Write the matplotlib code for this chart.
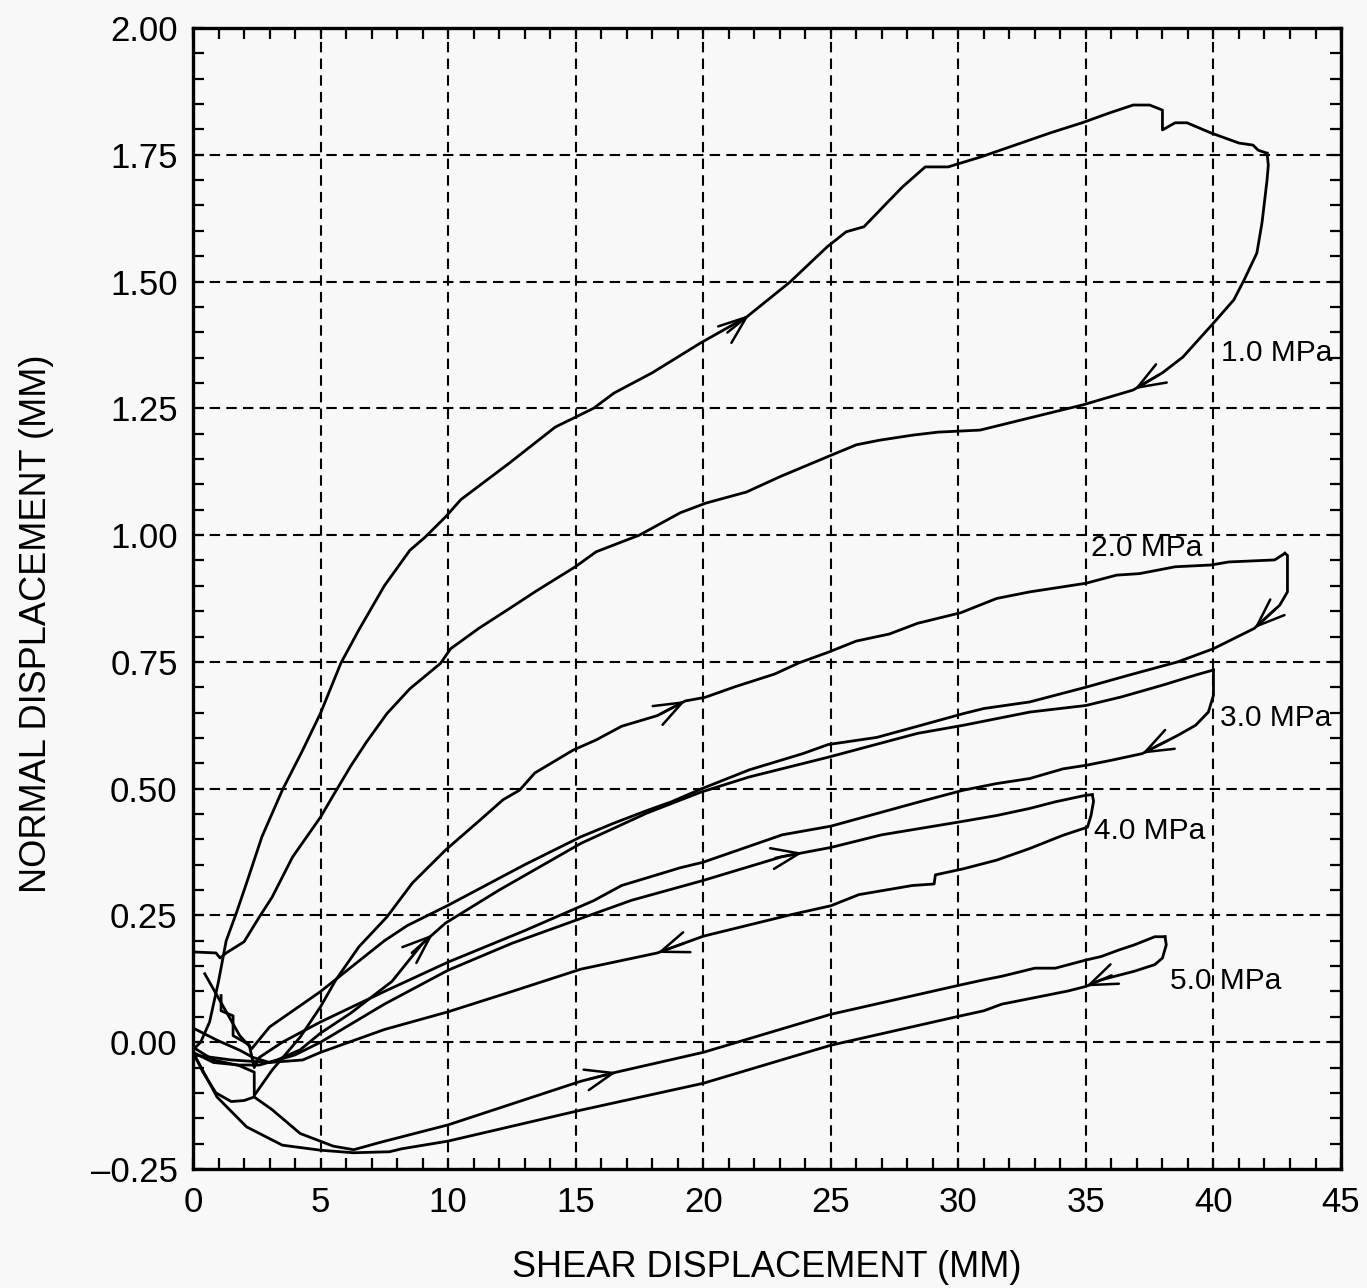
import matplotlib
matplotlib.use("Agg")
import matplotlib.pyplot as plt
import numpy as np
from matplotlib.ticker import MultipleLocator, FuncFormatter

plt.rcParams['font.family'] = ['Liberation Sans', 'DejaVu Sans']

# ---------------- data ----------------
load_10_x = [0.0, 0.3, 0.65, 1.0, 1.3, 1.7, 2.1, 2.7, 3.5, 4.3, 5.0, 5.8, 6.5, 7.5, 8.5, 9.1, 9.9, 10.5,
             12.4, 14.2, 15.7, 16.5, 18.0, 19.9, 21.7, 23.4, 24.85, 25.6, 26.3, 27.2, 27.8, 28.7, 29.6,
             30.9, 33.6, 34.85, 35.9, 36.85, 37.5, 38.0, 38.0, 38.5, 38.96, 39.9, 41.0, 41.55, 41.75, 42.1]
load_10_y = [-0.015, 0.0, 0.04, 0.12, 0.2, 0.255, 0.314, 0.405, 0.497, 0.576, 0.649, 0.748, 0.813, 0.9,
             0.97, 0.996, 1.036, 1.07, 1.142, 1.213, 1.25, 1.28, 1.32, 1.379, 1.43, 1.499, 1.568, 1.598,
             1.608, 1.655, 1.686, 1.726, 1.726, 1.746, 1.793, 1.813, 1.832, 1.848, 1.848, 1.838, 1.799,
             1.813, 1.813, 1.793, 1.773, 1.769, 1.759, 1.753]
unload_10_x = [42.1, 42.15, 42.1, 41.9, 41.7, 41.2, 40.8, 40.0, 38.8, 38.0, 36.85, 34.9, 33.6, 30.85, 29.2,
               28.2, 26.9, 26.0, 24.85, 23.0, 21.7, 20.1, 19.1, 17.5, 15.8, 15.0, 13.4, 12.4, 11.2, 10.1,
               9.7, 8.5, 7.6, 6.8, 6.2, 5.5, 5.0, 3.9, 3.1, 2.6, 2.0, 1.3, 1.06, 0.9, 0.0]
unload_10_y = [1.753, 1.73, 1.70, 1.615, 1.556, 1.503, 1.464, 1.418, 1.351, 1.32, 1.286, 1.257, 1.241,
               1.207, 1.203, 1.197, 1.187, 1.178, 1.154, 1.115, 1.085, 1.063, 1.044, 1.0, 0.967, 0.938,
               0.888, 0.855, 0.816, 0.776, 0.747, 0.697, 0.648, 0.592, 0.546, 0.487, 0.444, 0.365, 0.286,
               0.247, 0.198, 0.176, 0.166, 0.176, 0.178]

load_20_x = [0.0, 0.8, 1.8, 2.4, 2.4, 3.1, 4.2, 5.0, 5.6, 6.5, 7.6, 8.6, 9.9, 11.25, 12.15, 12.8, 13.4,
             14.9, 15.8, 16.8, 18.2, 19.3, 20.07, 21.25, 22.8, 23.75, 24.9, 26.0, 27.3, 28.4, 30.1, 31.5,
             32.8, 34.1, 35.0, 36.2, 37.1, 38.5, 39.9, 40.6, 42.4, 42.8]
load_20_y = [-0.01, -0.035, -0.046, -0.059, -0.105, -0.055, 0.01, 0.07, 0.123, 0.188, 0.247, 0.314, 0.379,
             0.438, 0.478, 0.497, 0.531, 0.576, 0.596, 0.623, 0.644, 0.673, 0.68, 0.701, 0.726, 0.748,
             0.769, 0.791, 0.805, 0.826, 0.847, 0.875, 0.888, 0.898, 0.905, 0.921, 0.924, 0.9375, 0.941,
             0.947, 0.951, 0.964]
unload_20_x = [42.8, 42.9, 42.9, 42.6, 41.6, 40.0, 38.6, 36.7, 35.0, 32.8, 31.0, 30.2, 28.4, 26.8, 24.9,
               23.9, 21.8, 19.9, 18.75, 17.8, 16.5, 15.2, 13.0, 10.0, 8.4, 7.5, 5.0, 4.0, 3.0, 2.3, 1.83,
               0.46]
unload_20_y = [0.964, 0.96, 0.888, 0.862, 0.816, 0.776, 0.75, 0.724, 0.70, 0.671, 0.658, 0.648, 0.623,
               0.601, 0.587, 0.569, 0.537, 0.499, 0.474, 0.457, 0.432, 0.405, 0.35, 0.27, 0.23, 0.20,
               0.10, 0.065, 0.03, -0.013, 0.013, 0.135]

load_30_x = [0.0, 0.8, 1.8, 2.6, 3.3, 4.2, 5.0, 6.2, 7.8, 9.0, 9.9, 12.0, 15.2, 17.8, 19.9, 21.8, 24.9,
             28.4, 30.2, 31.5, 32.8, 35.0, 36.4, 38.0, 39.3, 40.0]
load_30_y = [-0.02, -0.04, -0.045, -0.045, -0.035, -0.015, 0.018, 0.058, 0.12, 0.195, 0.235, 0.3, 0.392,
             0.452, 0.493, 0.523, 0.562, 0.609, 0.625, 0.638, 0.651, 0.664, 0.681, 0.704, 0.724, 0.734]
unload_30_x = [40.0, 40.0, 39.8, 39.3, 38.6, 37.2, 36.0, 35.0, 34.1, 32.8, 31.5, 30.2, 28.4, 25.0, 23.1,
               20.0, 19.1, 16.8, 15.7, 13.0, 10.0, 7.5, 5.0, 3.5, 2.6, 2.4, 2.2, 1.57, 1.57, 1.1, 1.1]
unload_30_y = [0.734, 0.684, 0.651, 0.625, 0.605, 0.569, 0.556, 0.546, 0.539, 0.52, 0.51, 0.497, 0.473,
               0.426, 0.409, 0.355, 0.344, 0.309, 0.279, 0.22, 0.158, 0.10, 0.04, 0.0, -0.03, -0.05,
               -0.005, 0.013, 0.052, 0.062, 0.092]

load_40_x = [0.0, 0.94, 1.84, 2.35, 3.0, 4.0, 5.0, 7.5, 10.0, 12.5, 15.2, 17.2, 20.0, 23.1, 25.0, 27.0,
             30.0, 31.5, 32.8, 33.8, 35.0, 35.25]
load_40_y = [0.028, 0.004, -0.016, -0.03, -0.04, -0.025, 0.0, 0.075, 0.142, 0.195, 0.244, 0.28, 0.319,
             0.366, 0.384, 0.409, 0.434, 0.447, 0.461, 0.474, 0.487, 0.488]
unload_40_x = [35.25, 35.3, 35.2, 35.06, 34.1, 32.8, 31.5, 30.2, 29.1, 29.05, 28.2, 26.1, 25.0, 23.4,
               20.0, 18.2, 15.2, 12.5, 10.0, 7.5, 5.0, 4.3, 3.0, 1.5, 0.0]
unload_40_y = [0.488, 0.475, 0.447, 0.424, 0.408, 0.382, 0.359, 0.342, 0.33, 0.312, 0.309, 0.291, 0.269,
               0.251, 0.209, 0.176, 0.144, 0.10, 0.06, 0.025, -0.02, -0.035, -0.04, -0.035, -0.025]

load_50_x = [0.0, 0.4, 0.9, 1.5, 2.0, 2.4, 3.1, 4.2, 5.5, 6.3, 7.3, 10.0, 15.2, 16.6, 20.0, 25.0, 30.0,
             31.0, 31.7, 33.0, 33.8, 35.0, 35.6, 36.3, 36.9, 37.7, 38.1]
load_50_y = [-0.02, -0.06, -0.10, -0.117, -0.115, -0.108, -0.133, -0.18, -0.205, -0.212, -0.198, -0.163,
             -0.077, -0.059, -0.02, 0.055, 0.112, 0.123, 0.13, 0.146, 0.146, 0.162, 0.169, 0.182, 0.192,
             0.208, 0.208]
unload_50_x = [38.1, 38.15, 38.0, 37.7, 36.9, 35.6, 35.0, 34.3, 33.0, 31.7, 31.0, 30.0, 25.0, 20.0, 15.2,
               10.0, 8.2, 7.7, 6.3, 5.0, 3.5, 2.1, 0.94, 0.0]
unload_50_y = [0.208, 0.192, 0.166, 0.153, 0.14, 0.123, 0.11, 0.101, 0.088, 0.075, 0.062, 0.051, -0.006,
               -0.081, -0.134, -0.195, -0.21, -0.216, -0.218, -0.213, -0.203, -0.167, -0.108, -0.02]

curves = {
    'load_10': (load_10_x, load_10_y), 'unload_10': (unload_10_x, unload_10_y),
    'load_20': (load_20_x, load_20_y), 'unload_20': (unload_20_x, unload_20_y),
    'load_30': (load_30_x, load_30_y), 'unload_30': (unload_30_x, unload_30_y),
    'load_40': (load_40_x, load_40_y), 'unload_40': (unload_40_x, unload_40_y),
    'load_50': (load_50_x, load_50_y), 'unload_50': (unload_50_x, unload_50_y),
}

# arrows: curve, x of arrow tip
arrow_curves = ['load_10', 'unload_10', 'load_20', 'unload_20', 'load_30', 'unload_30',
                'load_40', 'unload_40', 'load_50', 'unload_50']
arrow_x = [21.8, 36.9, 19.3, 41.6, 9.4, 37.2, 23.9, 18.2, 16.6, 35.0]

labels = ['1.0 MPa', '2.0 MPa', '3.0 MPa', '4.0 MPa', '5.0 MPa']
label_x = [40.3, 35.2, 40.25, 35.3, 38.3]
label_y = [1.36, 0.975, 0.64, 0.417, 0.12]

x_ticks = [0, 5, 10, 15, 20, 25, 30, 35, 40, 45]
y_ticks = [-0.25, 0.0, 0.25, 0.5, 0.75, 1.0, 1.25, 1.5, 1.75, 2.0]

# ---------------- figure ----------------
bg = '#f8f8f8'
fig = plt.figure(figsize=(13.67, 12.88), dpi=100, facecolor=bg)
ax = fig.add_axes([0.1412, 0.0924, 0.981 - 0.1412, 0.9783 - 0.0924], facecolor=bg)

for name, (xs, ys) in curves.items():
    ax.plot(xs, ys, color='black', lw=2.0, solid_joinstyle='round', zorder=3)

ax.set_xlim(0, 45)
ax.set_ylim(-0.25, 2.0)
ax.set_xticks(x_ticks)
ax.set_yticks(y_ticks)
ax.xaxis.set_minor_locator(MultipleLocator(1))
ax.yaxis.set_minor_locator(MultipleLocator(0.05))
ax.yaxis.set_major_formatter(FuncFormatter(lambda v, p: ('%.2f' % v).replace('-', '\u2013')))
ax.grid(True, which='major', color='black', linestyle=(0, (5, 3)), lw=1.5, zorder=1)
ax.tick_params(which='both', direction='in', top=True, right=True, width=1.6, color='black')
ax.tick_params(which='major', length=8, labelsize=25, pad=11)
ax.tick_params(which='minor', length=8)
ax.tick_params(axis='x', which='major', pad=12)
for s in ax.spines.values():
    s.set_linewidth(2.4)

fig.text(0.561, 0.016, 'SHEAR DISPLACEMENT (MM)', ha='center', va='center', fontsize=26)
fig.text(0.027, 0.516, 'NORMAL DISPLACEMENT (MM)', ha='center', va='center', rotation=90, fontsize=26)

for t, lx, ly in zip(labels, label_x, label_y):
    ax.text(lx, ly, t, ha='left', va='center', fontsize=21.5, zorder=4)

# arrows along curves
fig.canvas.draw()
for cname, ax_x in zip(arrow_curves, arrow_x):
    xs, ys = curves[cname]
    forward = cname.startswith('load')
    pts = ax.transData.transform(np.column_stack([xs, ys]))
    for i in range(len(xs) - 1):
        x0, x1 = xs[i], xs[i + 1]
        ok = (x0 <= ax_x <= x1) if forward else (x1 <= ax_x <= x0)
        if ok and x0 != x1:
            t = (ax_x - x0) / (x1 - x0)
            ty = ys[i] + t * (ys[i + 1] - ys[i])
            d = pts[i + 1] - pts[i]
            d = d / np.hypot(*d)
            L = 28
            ax.annotate('', xy=(ax_x, ty), xytext=(-d[0] * L, -d[1] * L), textcoords='offset pixels',
                        arrowprops=dict(arrowstyle='->,head_length=1.0,head_width=0.38', lw=1.8,
                                        color='black', shrinkA=0, shrinkB=0, mutation_scale=20),
                        zorder=4)
            break

fig.savefig('out.png', dpi=100, facecolor=bg)
